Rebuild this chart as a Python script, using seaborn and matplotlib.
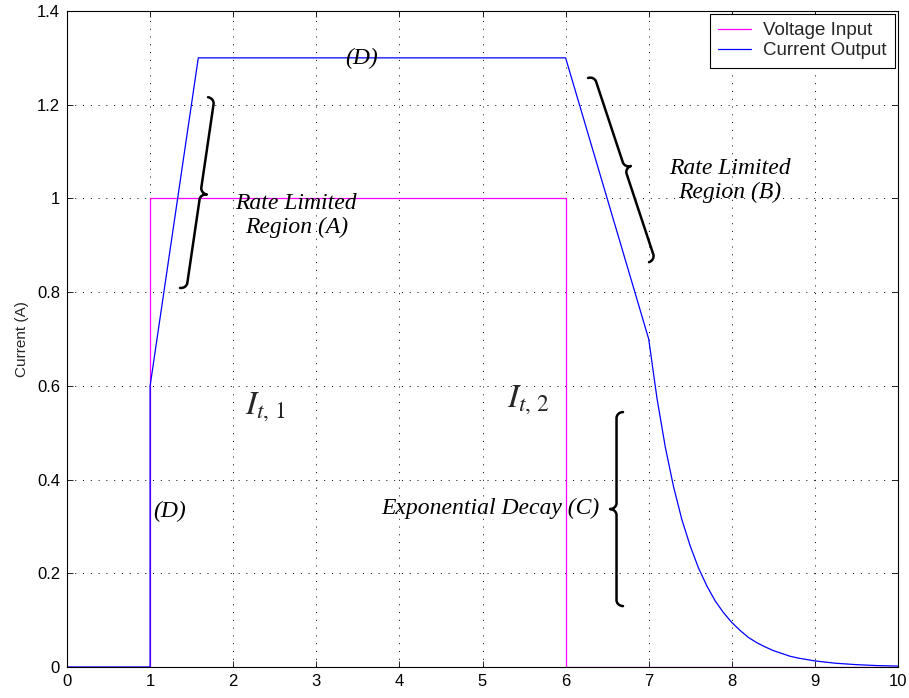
import numpy as np
import pandas as pd
import matplotlib
matplotlib.use("Agg")
import matplotlib.pyplot as plt
import seaborn as sns
from matplotlib.path import Path
from matplotlib.patches import PathPatch

# ---- data ----------------------------------------------------------------
volt_time = [0, 1, 1, 6, 6, 10]
volt_value = [0, 0, 1, 1, 0, 0]

curr_time = [0, 1, 1, 1.58, 6, 7,
             7.1, 7.2, 7.3, 7.4, 7.5, 7.6, 7.7, 7.8, 7.9, 8.0,
             8.1, 8.2, 8.3, 8.4, 8.5, 8.6, 8.7, 8.8, 8.9, 9.0,
             9.25, 9.5, 9.75, 10]
curr_value = [0, 0, 0.6, 1.3, 1.3, 0.7,
              0.573, 0.469, 0.384, 0.314, 0.258, 0.211, 0.173, 0.141, 0.116, 0.095,
              0.078, 0.063, 0.052, 0.043, 0.035, 0.029, 0.023, 0.019, 0.016, 0.013,
              0.008, 0.005, 0.003, 0.002]

x_ticks = list(range(0, 11))
y_ticks = [0, 0.2, 0.4, 0.6, 0.8, 1.0, 1.2, 1.4]
y_tick_labels = ["0", "0.2", "0.4", "0.6", "0.8", "1", "1.2", "1.4"]

series_names = ["Voltage Input", "Current Output"]
series_colors = ["#ff00ff", "#0000ff"]

volt_df = pd.DataFrame({"time": volt_time, "value": volt_value})
curr_df = pd.DataFrame({"time": curr_time, "value": curr_value})

# ---- style ---------------------------------------------------------------
sns.set_style("ticks")
plt.rcParams.update({
    "font.family": ["Liberation Sans", "DejaVu Sans"],
    "mathtext.fontset": "stix",
    "xtick.direction": "in",
    "ytick.direction": "in",
    "xtick.top": True,
    "ytick.right": True,
    "xtick.major.size": 4,
    "ytick.major.size": 4,
    "xtick.major.width": 0.6,
    "ytick.major.width": 0.6,
    "xtick.color": "black",
    "ytick.color": "black",
    "axes.edgecolor": "black",
    "axes.linewidth": 0.8,
})

fig = plt.figure(figsize=(9.09, 6.98), dpi=100)
ax = fig.add_axes([67 / 909, 31 / 698, 831 / 909, 656 / 698])

sns.lineplot(data=volt_df, x="time", y="value", sort=False, estimator=None,
             color=series_colors[0], lw=0.9, label=series_names[0], ax=ax)
sns.lineplot(data=curr_df, x="time", y="value", sort=False, estimator=None,
             color=series_colors[1], lw=0.9, label=series_names[1], ax=ax)

ax.set_xlim(0, 10)
ax.set_ylim(0, 1.4)
ax.set_xticks(x_ticks)
ax.set_xticklabels([str(t) for t in x_ticks])
ax.set_yticks(y_ticks)
ax.set_yticklabels(y_tick_labels)
ax.tick_params(labelsize=12, pad=5)
ax.set_xlabel("")
ax.set_ylabel("Current (A)", fontsize=11, labelpad=6)
ax.grid(True, color="black", linestyle=(0, (1, 7)), lw=0.7)
ax.set_axisbelow(True)

leg = ax.legend(loc="upper right", fontsize=13.5, frameon=True, fancybox=False,
                edgecolor="black", framealpha=1, handlelength=1.75,
                handletextpad=0.65, borderpad=0.45, labelspacing=0.15,
                borderaxespad=0.15)
leg.get_frame().set_linewidth(0.8)

# ---- annotations -----------------------------------------------------------
serif_it = dict(family="Liberation Serif", style="italic", fontsize=17, color="black")

ax.text(3.54, 1.287, "(D)", ha="center", va="baseline", **serif_it)
ax.text(2.76, 0.926, "Rate Limited\nRegion (A)", ha="center", va="baseline",
        multialignment="center", linespacing=1.2, **serif_it)
ax.text(7.98, 1.000, "Rate Limited\nRegion (B)", ha="center", va="baseline",
        multialignment="center", linespacing=1.2, **serif_it)
ax.text(1.23, 0.321, "(D)", ha="center", va="baseline", **serif_it)
ax.text(5.10, 0.327, "Exponential Decay (C)", ha="center", va="baseline", **serif_it)
ax.text(2.14, 0.540, r"$I_{t,\,1}$", ha="left", va="baseline", fontsize=24)
ax.text(5.295, 0.555, r"$I_{t,\,2}$", ha="left", va="baseline", fontsize=24)


def draw_brace(ax, p_start, p_end, side=1, depth=13.0, hook=6.0, lw=1.8):
    """Curly brace between two data points; the cusp points to `side`
    (+1 = right of the start->end direction, -1 = left)."""
    a = ax.transData.transform(p_start)
    b = ax.transData.transform(p_end)
    d = b - a
    length = np.hypot(*d)
    u = d / length
    n = np.array([-u[1], u[0]]) * side
    k = 0.5523
    h = depth / 2.0
    r = hook
    m = length / 2.0
    local = [
        (0, 0),
        (0, k * h), (r - k * r, h), (r, h),
        (m - r, h),
        (m - r + k * r, h), (m, 2 * h - k * h), (m, 2 * h),
        (m, 2 * h - k * h), (m + r - k * r, h), (m + r, h),
        (length - r, h),
        (length - r + k * r, h), (length, k * h), (length, 0),
    ]
    codes = [Path.MOVETO,
             Path.CURVE4, Path.CURVE4, Path.CURVE4,
             Path.LINETO,
             Path.CURVE4, Path.CURVE4, Path.CURVE4,
             Path.CURVE4, Path.CURVE4, Path.CURVE4,
             Path.LINETO,
             Path.CURVE4, Path.CURVE4, Path.CURVE4]
    disp = np.array([a + s * u + t * n for s, t in local])
    data = ax.transData.inverted().transform(disp)
    patch = PathPatch(Path(data, codes), fill=False, lw=lw, color="black",
                      capstyle="round", joinstyle="round", zorder=4)
    ax.add_patch(patch)


draw_brace(ax, (1.697, 1.216), (1.360, 0.809), side=1)
draw_brace(ax, (6.270, 1.257), (7.004, 0.864), side=1)
draw_brace(ax, (6.691, 0.544), (6.691, 0.130), side=-1)

fig.savefig("out.png", dpi=100)
